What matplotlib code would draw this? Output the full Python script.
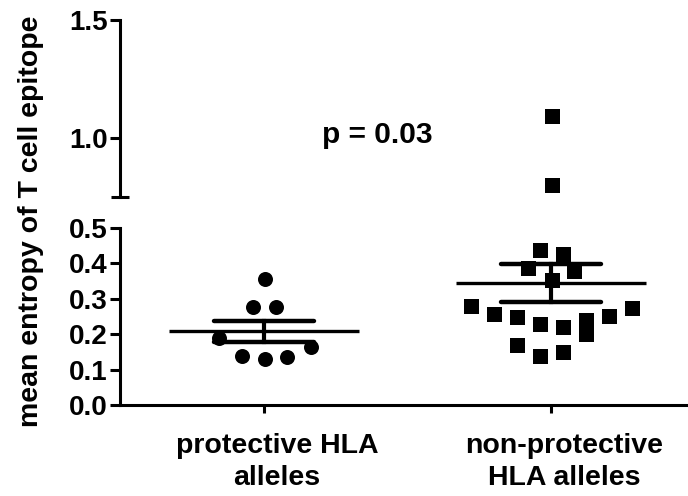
import numpy as np
import matplotlib
matplotlib.use("Agg")
import matplotlib.pyplot as plt
from matplotlib.transforms import ScaledTranslation

plt.rcParams['font.family'] = ['Liberation Sans', 'DejaVu Sans']
plt.rcParams['font.weight'] = 'bold'

# ---- data ----
categories = ["protective HLA\nalleles", "non-protective\nHLA alleles"]
protective = [0.355, 0.276, 0.276, 0.190, 0.163, 0.138, 0.130, 0.135]
protective_x_offset = [0.003, -0.038, 0.042, -0.157, 0.164, -0.077, 0.003, 0.080]
nonprotective = [0.437, 0.426, 0.387, 0.378, 0.352, 0.280, 0.256, 0.248, 0.228,
                 0.221, 0.240, 0.200, 0.252, 0.273, 0.169, 0.139, 0.149, 1.094, 0.800]
nonprotective_x_offset = [-0.038, 0.042, -0.080, 0.080, 0.003, -0.279, -0.199, -0.118,
                          -0.038, 0.042, 0.122, 0.122, 0.202, 0.282, -0.118, -0.038,
                          0.042, 0.003, 0.003]
p_text = "p = 0.03"
ylabel = "mean entropy of T cell epitope"
lower_ticks = [0.0, 0.1, 0.2, 0.3, 0.4, 0.5]
upper_ticks = [1.0, 1.5]

W, H = 688, 496
fig = plt.figure(figsize=(W / 100, H / 100), dpi=100)
left = 120 / W
ax_lo = fig.add_axes([left, 1 - 405 / H, 1 - left, (405 - 228) / H])
ax_hi = fig.add_axes([left, 1 - 197 / H, 1 - left, (197 - 20) / H], sharex=ax_lo)

LW = 2.2
for ax in (ax_lo, ax_hi):
    ax.set_facecolor('none')
    for s in ('top', 'right'):
        ax.spines[s].set_visible(False)
    ax.spines['left'].set_linewidth(LW)
    ax.spines['bottom'].set_linewidth(LW)

ax_hi.spines['bottom'].set_visible(False)

ax_lo.set_xlim(-0.502, 1.477)
ax_lo.set_ylim(0, 0.5)
ax_hi.set_ylim(0.75, 1.5)

groups = [(0, protective, protective_x_offset, 'o'),
          (1, nonprotective, nonprotective_x_offset, 's')]

for pos, vals, offs, mk in groups:
    vals = np.asarray(vals)
    xs = pos + np.asarray(offs)
    for ax in (ax_lo, ax_hi):
        ax.plot(xs, vals, linestyle='none', marker=mk, markersize=10.8,
                color='black', markeredgewidth=0, zorder=3)
    m = vals.mean()
    sem = vals.std(ddof=1) / np.sqrt(len(vals))
    ax_lo.plot([pos - 0.33, pos + 0.33], [m, m], color='black', lw=2.4,
               solid_capstyle='butt', zorder=4)
    for yv in (m - sem, m + sem):
        ax_lo.plot([pos - 0.174, pos + 0.174], [yv, yv], color='black', lw=3.2,
                   solid_capstyle='round', zorder=4)
    ax_lo.plot([pos, pos], [m - sem, m + sem], color='black', lw=3.0, zorder=4)

# ticks
ax_lo.set_yticks(lower_ticks)
ax_lo.set_yticklabels([f"{t:.1f}" for t in lower_ticks])
ax_lo.set_yticks([0.5], minor=True)
ax_lo.tick_params(axis='y', which='major', direction='out', length=7, width=LW,
                  labelsize=20, pad=2)
ax_lo.tick_params(axis='y', which='minor', direction='in', length=6, width=LW)

ax_hi.set_yticks(upper_ticks)
ax_hi.set_yticklabels([f"{t:.1f}" for t in upper_ticks])
ax_hi.set_yticks([0.75], minor=True)
ax_hi.tick_params(axis='y', which='major', direction='out', length=7, width=LW,
                  labelsize=20, pad=2)
ax_hi.tick_params(axis='y', which='minor', direction='inout', length=13, width=LW)
ax_hi.tick_params(axis='x', which='both', bottom=False, labelbottom=False)

ax_lo.set_xticks([0, 1])
ax_lo.set_xticklabels(categories, fontsize=20.5, fontweight='bold', linespacing=1.3)
ax_lo.tick_params(axis='x', direction='out', length=6, width=LW, pad=14)
for lab in ax_lo.get_xticklabels():
    lab.set_transform(lab.get_transform() + ScaledTranslation(13 / 100, 0, fig.dpi_scale_trans))

ax_hi.text(0.394, 0.979, p_text, ha='center', va='baseline', fontsize=21.5,
           fontweight='bold')

fig.text(31.5 / W, 1 - 221 / H, ylabel, rotation=90, ha='center', va='center',
         fontsize=20.5, fontweight='bold')

fig.savefig("out.png", dpi=100)
